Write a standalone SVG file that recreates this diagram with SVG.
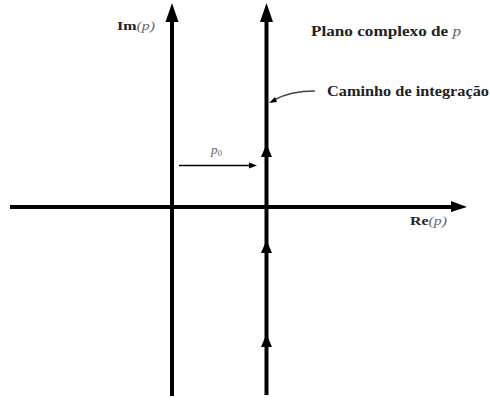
<svg xmlns="http://www.w3.org/2000/svg" width="490" height="401" viewBox="0 0 490 401">
<style>
.axis{stroke:#000;stroke-width:4;fill:none}
.lbl{font-family:"Liberation Serif",serif;font-weight:bold;fill:#222}
.math{font-family:"Liberation Serif",serif;font-style:italic;fill:#666}
</style>
<rect width="490" height="401" fill="#fff"/>
<g id="connectors">
<line class="axis" x1="10" y1="207" x2="452" y2="207"/>
<polygon points="467,207 451,201 451,212" fill="#000"/>
<line class="axis" x1="172" y1="396" x2="172" y2="20"/>
<polygon points="172,3 165.5,22 178.5,22" fill="#000"/>
<line class="axis" x1="266.5" y1="395" x2="266.5" y2="20"/>
<polygon points="266.5,3 260,22 273,22" fill="#000"/>
<polygon points="266.5,144 261,157 272,157" fill="#000"/>
<polygon points="266.5,240 261,253 272,253" fill="#000"/>
<polygon points="266.5,334 261,347 272,347" fill="#000"/>
<line x1="179" y1="165.5" x2="250" y2="165.5" stroke="#000" stroke-width="1.5"/>
<polygon points="257,165.5 249,162.5 249,168.5" fill="#000"/>
<path d="M315,91 Q290,91 274,100" stroke="#444" stroke-width="1.5" fill="none"/>
<polygon points="269,103 275,97 277,102" fill="#000"/>
</g>
<g id="im-label"><text class="lbl" x="117" y="30" font-size="13" textLength="38" lengthAdjust="spacingAndGlyphs">Im<tspan class="math" font-weight="normal">(p)</tspan></text></g>
<g id="re-label"><text class="lbl" x="410" y="225" font-size="13" textLength="37" lengthAdjust="spacingAndGlyphs">Re<tspan class="math" font-weight="normal">(p)</tspan></text></g>
<g id="title"><text class="lbl" x="311" y="36" font-size="15" textLength="150" lengthAdjust="spacingAndGlyphs">Plano complexo de <tspan class="math" font-weight="normal">p</tspan></text></g>
<g id="path-label"><text class="lbl" x="327" y="96" font-size="15" textLength="162" lengthAdjust="spacingAndGlyphs">Caminho de integração</text></g>
<g id="p0-label"><text class="math" x="211" y="154" font-size="13">p<tspan font-style="normal" font-size="9" dy="2">0</tspan></text></g>
</svg>
